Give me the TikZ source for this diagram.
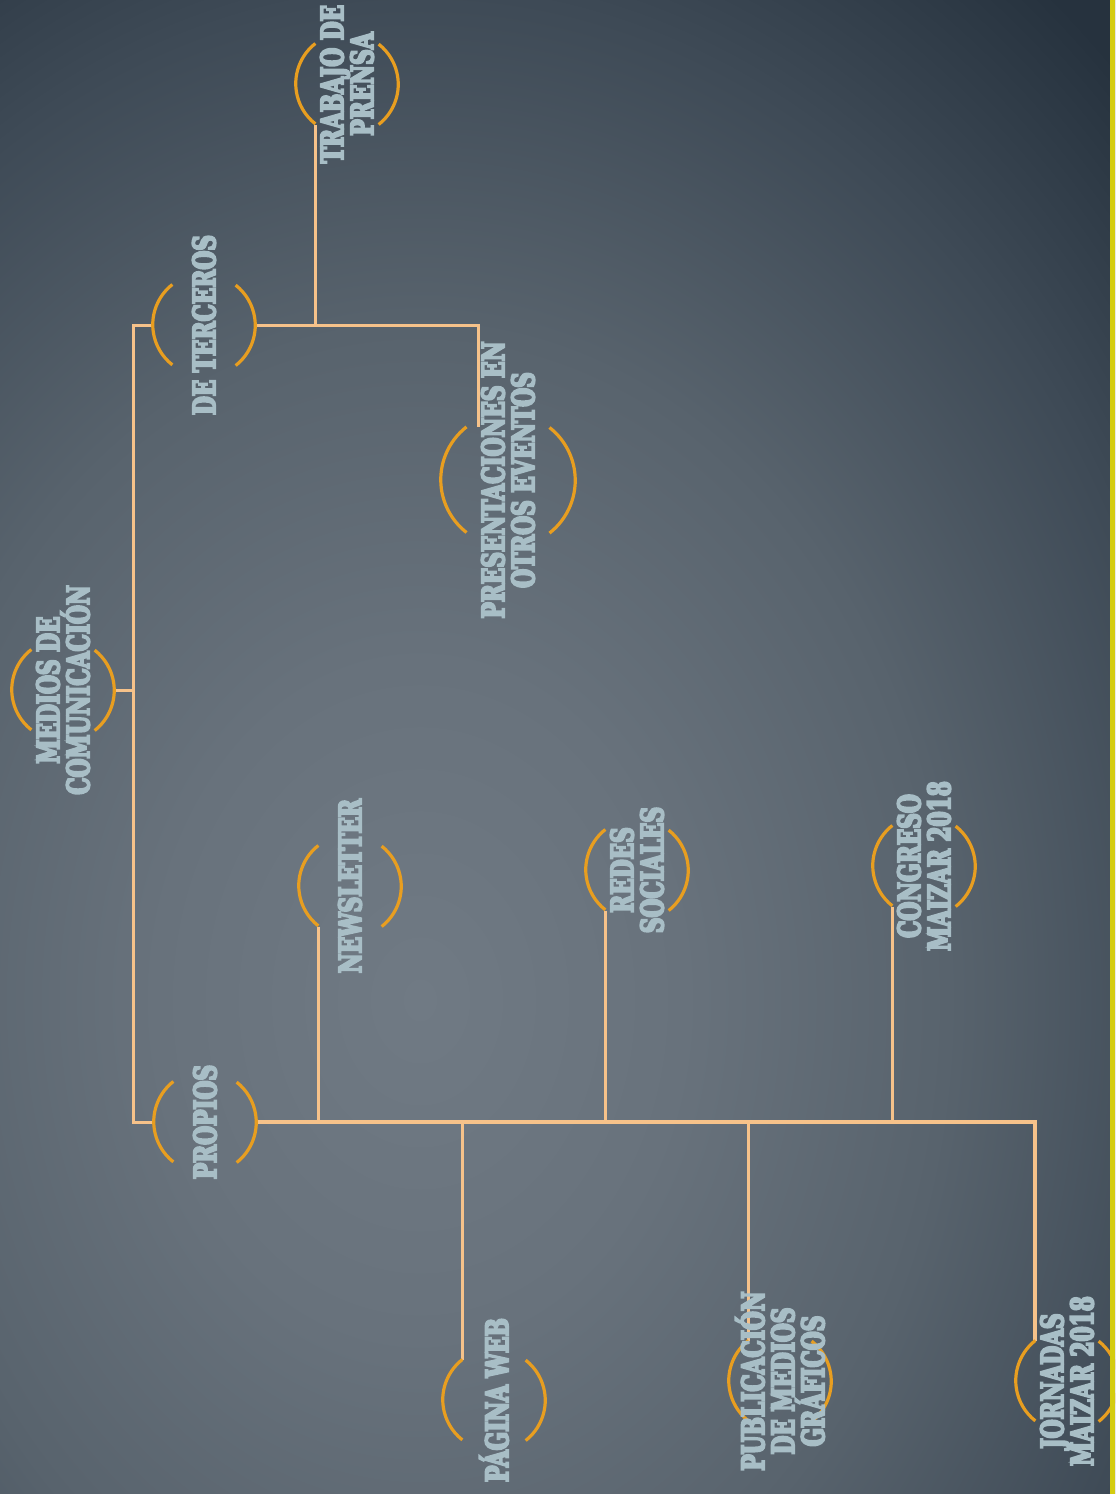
\documentclass[tikz,border=0pt]{standalone}
\usepackage{fontspec}
\newfontfamily\slabfont[FakeStretch=0.7, BoldFeatures={FakeBold=6}]{DejaVu Serif}
\definecolor{bgA}{RGB}{112,122,132}
\definecolor{bgB}{RGB}{104,114,124}
\definecolor{bgC}{RGB}{88,99,109}
\definecolor{bgD}{RGB}{62,74,86}
\definecolor{bgE}{RGB}{38,50,62}
\definecolor{mltext}{RGB}{168,190,198}
\definecolor{mlorange}{RGB}{232,158,32}
\definecolor{mlpeach}{RGB}{246,194,138}
\definecolor{mlyellow}{RGB}{212,204,16}
\pgfdeclareradialshading{bgglow}{\pgfpoint{0bp}{0bp}}{color(0bp)=(bgA); color(6bp)=(bgB); color(12bp)=(bgC); color(18bp)=(bgD); color(23bp)=(bgE); color(25bp)=(bgE); color(50bp)=(bgE)}
% two brackets round a node
\newcommand{\brackets}[2]{%
  \draw[bracket] (#1.128) arc[start angle=128, end angle=232, radius=#2];
  \draw[bracket] (#1.-52) arc[start angle=-52, end angle=52, radius=#2];}

\begin{document}
\begin{tikzpicture}[x=0.5pt, y=0.5pt,
  ring/.style={circle, minimum size=51pt, inner sep=0pt},
  caption/.style={rotate=90, align=center, text=mltext, font=\slabfont\bfseries\fontsize{15.5}{15}\selectfont},
  link/.style={line width=1.5pt, mlpeach},
  bracket/.style={line width=1.6pt, mlorange}]
\useasboundingbox (0,0) rectangle (1115,-1494);

% Background
\begin{scope}
\clip (0,0) rectangle (1115,-1494);
\shade[shading=bgglow] (-680,-2400) rectangle (1520,400);

% Nodes
\node[ring] (root) at (63,-690) {};
\node[ring] (terceros) at (204,-325) {};
\node[ring] (propios) at (205,-1122) {};
\node[ring] (trabajo) at (347,-84) {};
\node[ring, minimum size=67pt] (presentaciones) at (508,-480) {};
\node[ring] (newsletter) at (350,-886) {};
\node[ring] (pagina) at (494,-1400) {};
\node[ring] (redes) at (637,-870) {};
\node[ring] (publicacion) at (780,-1381) {};
\node[ring] (congreso) at (924,-866) {};
\node[ring] (jornadas) at (1067,-1381) {};
\coordinate (trunk) at (133,-690);

% Connectors
\draw[link] (root.east) -- (trunk);
\draw[link] (terceros.west) -| (trunk) |- (propios.west);
\draw[link] (terceros.east) -| (trabajo.232);
\draw[link] (terceros.east) -| ([xshift=6pt]presentaciones.128);
\draw[link, line width=2pt] (propios.east) -| (jornadas.128);
\draw[link] (newsletter.232) -- (newsletter.232 |- propios.east);
\draw[link] (redes.232) -- (redes.232 |- propios.east);
\draw[link] (congreso.232) -- (congreso.232 |- propios.east);
\draw[link] (pagina.128) -- (pagina.128 |- propios.east);
\draw[link] (publicacion.128) -- (publicacion.128 |- propios.east);

% Brackets
\brackets{root}{25.5pt}
\brackets{terceros}{25.5pt}
\brackets{propios}{25.5pt}
\brackets{trabajo}{25.5pt}
\brackets{presentaciones}{33.5pt}
\brackets{newsletter}{25.5pt}
\brackets{pagina}{25.5pt}
\brackets{redes}{25.5pt}
\brackets{publicacion}{25.5pt}
\brackets{congreso}{25.5pt}
\brackets{jornadas}{25.5pt}

% Labels
\node[caption] (rootlbl) at (root) {MEDIOS DE\\COMUNICACIÓN};
\node[caption] (terceroslbl) at (terceros) {DE TERCEROS};
\node[caption] (propioslbl) at (propios) {PROPIOS};
\node[caption] (trabajolbl) at (trabajo) {TRABAJO DE\\PRENSA};
\node[caption] (presentacioneslbl) at (presentaciones) {PRESENTACIONES EN\\OTROS EVENTOS};
\node[caption] (newsletterlbl) at (newsletter) {NEWSLETTER};
\node[caption] (paginalbl) at (pagina) {PÁGINA WEB};
\node[caption] (redeslbl) at (redes) {REDES\\SOCIALES};
\node[caption] (publicacionlbl) at (publicacion) {PUBLICACIÓN\\DE MEDIOS\\GRÁFICOS};
\node[caption] (congresolbl) at (congreso) {CONGRESO\\MAIZAR 2018};
\node[caption] (jornadaslbl) at (jornadas) {JORNADAS\\MAIZAR 2018};

% Edge strip
\fill[mlyellow] (1110,0) rectangle (1115,-1494);
\end{scope}
\end{tikzpicture}
\end{document}
